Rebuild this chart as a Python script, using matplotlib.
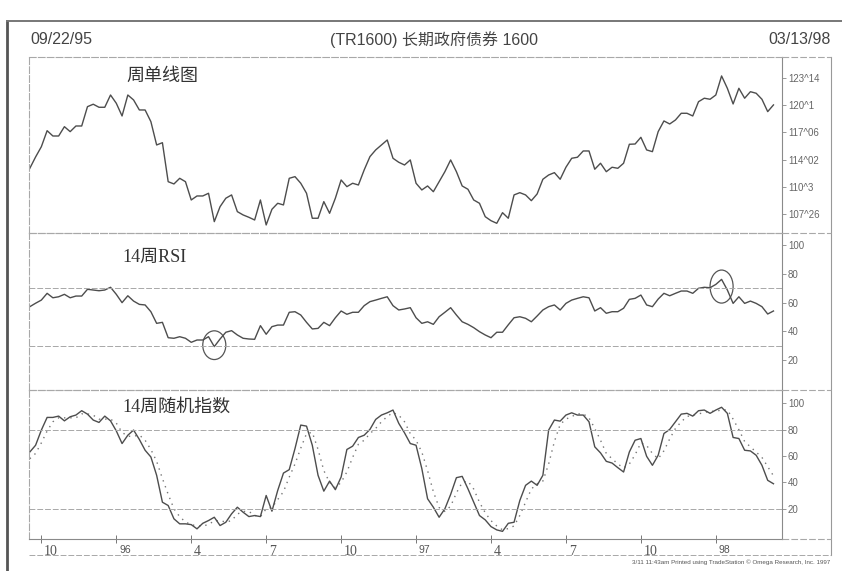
import numpy as np
import pandas as pd
import matplotlib
matplotlib.use('Agg')
import matplotlib.pyplot as plt
import matplotlib.dates as mdates
from matplotlib.patches import Ellipse
from matplotlib.lines import Line2D
from matplotlib.transforms import ScaledTranslation

plt.rcParams['font.family'] = ['Liberation Sans', 'Noto Sans CJK SC']

# weekly bars 09/22/95 .. 03/13/98
dates = pd.date_range('1995-09-22', periods=130, freq='W-FRI')

# weekly close (points, decimal)
price = [113.06, 114.36, 115.54, 117.38, 116.77, 116.77, 117.84, 117.27, 117.92, 117.92,
         120.14, 120.42, 120.07, 120.07, 121.48, 120.53, 119.07, 121.48, 120.91, 119.76,
         119.76, 118.42, 115.74, 116.00, 111.52, 111.26, 111.91, 111.52, 109.42, 109.88,
         109.88, 110.19, 106.93, 108.65, 109.62, 110.00, 108.08, 107.70, 107.43, 107.12,
         109.42, 106.55, 108.35, 109.04, 108.85, 111.91, 112.10, 111.34, 110.19, 107.32,
         107.32, 109.23, 107.89, 109.62, 111.72, 110.95, 111.34, 111.14, 112.87, 114.40,
         115.17, 115.74, 116.31, 114.21, 113.75, 113.44, 114.02, 111.34, 110.57, 111.03,
         110.37, 111.52, 112.67, 114.02, 112.67, 111.03, 110.65, 109.42, 109.04, 107.50,
         107.04, 106.74, 107.96, 107.32, 110.00, 110.26, 110.00, 109.34, 110.11, 111.80,
         112.29, 112.56, 111.80, 113.18, 114.21, 114.33, 115.05, 115.05, 112.95, 113.64,
         112.67, 113.18, 113.06, 113.64, 115.82, 115.85, 116.62, 115.17, 114.97, 117.27,
         118.50, 118.15, 118.61, 119.38, 119.38, 119.07, 120.71, 121.11, 120.99, 121.48,
         123.67, 122.25, 120.45, 122.25, 121.11, 121.86, 121.68, 120.99, 119.57, 120.34]

# 14-week RSI
rsi = [57.1, 59.5, 61.7, 66.4, 63.3, 64.0, 65.7, 63.3, 64.5, 64.5,
       69.2, 68.7, 68.2, 68.7, 70.6, 65.7, 59.9, 64.7, 61.0, 58.7,
       58.3, 53.6, 45.5, 46.2, 35.5, 35.1, 36.2, 35.1, 32.3, 33.9,
       33.9, 36.2, 29.3, 34.6, 39.3, 40.4, 37.4, 35.1, 34.6, 34.4,
       43.9, 37.9, 43.2, 44.3, 44.3, 53.2, 53.6, 51.3, 46.2, 41.6,
       42.0, 46.2, 43.9, 49.4, 54.1, 51.8, 53.2, 53.2, 57.8, 60.6,
       61.7, 62.9, 64.0, 57.8, 54.8, 55.5, 56.4, 49.4, 45.5, 46.6,
       44.8, 50.1, 53.2, 56.4, 51.3, 46.6, 44.8, 42.5, 39.7, 37.4,
       35.5, 39.3, 39.3, 44.5, 49.4, 50.1, 49.0, 46.6, 50.6, 54.8,
       57.1, 58.3, 54.8, 59.4, 61.7, 62.9, 64.0, 63.3, 54.1, 56.4,
       52.5, 53.6, 53.6, 56.0, 62.2, 62.9, 65.2, 58.3, 57.1, 62.4,
       66.4, 64.7, 66.4, 68.0, 68.0, 66.4, 69.9, 70.6, 70.3, 72.6,
       76.1, 68.7, 59.4, 64.0, 59.4, 61.0, 59.4, 57.1, 52.0, 54.1]

# 14-week stochastic %K (solid) and %D (dotted)
stoch_k = [63.1, 68.2, 79.7, 89.3, 89.3, 90.3, 86.7, 89.8, 91.1, 94.4,
           91.8, 87.3, 85.5, 90.3, 86.7, 79.1, 69.5, 75.8, 79.7, 72.6,
           64.4, 59.3, 45.4, 25.0, 22.5, 12.4, 8.6, 8.6, 8.0, 4.8,
           9.0, 11.1, 13.6, 7.3, 9.8, 16.2, 21.2, 17.4, 14.1, 14.9,
           14.1, 30.1, 18.2, 33.9, 47.1, 49.7, 65.7, 83.5, 82.7, 68.2,
           45.4, 33.4, 41.0, 34.5, 44.1, 65.0, 67.5, 74.1, 75.8, 80.2,
           87.8, 91.1, 92.8, 94.9, 84.8, 77.6, 69.5, 68.2, 50.5, 27.6,
           21.2, 13.6, 20.0, 30.9, 43.6, 44.6, 35.2, 25.0, 14.9, 11.6,
           6.5, 4.0, 2.9, 9.0, 9.8, 26.3, 37.8, 41.0, 37.8, 45.4,
           79.7, 87.3, 86.5, 91.1, 92.8, 91.1, 91.1, 86.0, 67.0, 62.4,
           56.0, 54.7, 51.2, 47.9, 63.1, 72.0, 73.3, 59.8, 53.0, 60.6,
           77.1, 80.2, 86.0, 91.8, 92.4, 90.3, 94.4, 94.9, 92.4, 94.9,
           97.0, 92.4, 74.1, 73.3, 64.4, 63.9, 60.6, 53.0, 41.6, 39.0]

stoch_d = [58, 62, 70, 79, 86, 89, 89, 89, 89, 92,
           92, 91, 88, 88, 88, 85, 78, 75, 75, 76,
           72, 65, 56, 43, 31, 20, 14, 10, 8, 7,
           7, 8, 11, 11, 10, 11, 16, 18, 18, 15,
           14, 20, 21, 27, 33, 44, 54, 66, 77, 78,
           65, 49, 40, 36, 40, 48, 59, 69, 72, 77,
           81, 86, 90, 93, 91, 86, 77, 72, 63, 49,
           33, 21, 18, 22, 32, 40, 41, 35, 25, 17,
           11, 7, 4, 5, 7, 15, 25, 35, 39, 41,
           54, 71, 84, 88, 90, 92, 92, 89, 81, 72,
           62, 58, 54, 51, 54, 61, 70, 68, 62, 58,
           64, 73, 81, 86, 90, 91, 92, 93, 94, 94,
           95, 95, 88, 80, 71, 67, 63, 59, 52, 45]

price_ticks = [107.8125, 110.9375, 114.0625, 117.1875, 120.3125, 123.4375]
price_labels = ['107^26', '110^3', '114^02', '117^06', '120^1', '123^14']
osc_ticks = [20, 40, 60, 80, 100]
month_ticks = ['1995-10-06', '1996-01-05', '1996-04-05', '1996-07-05', '1996-10-04',
               '1997-01-03', '1997-04-04', '1997-07-04', '1997-10-03', '1998-01-02']
month_labels = ['10', '96', '4', '7', '10', '97', '4', '7', '10', '98']


def fx(x):
    return x / 842


def fy(y):
    return 1 - y / 571


fig = plt.figure(figsize=(8.42, 5.71), dpi=100)
W = (781.7 - 29) / 842
ax1 = fig.add_axes([fx(29), fy(232.7), W, (232.7 - 56.7) / 571])
ax2 = fig.add_axes([fx(29), fy(390), W, (390 - 232.7) / 571], sharex=ax1)
ax3 = fig.add_axes([fx(29), fy(539), W, (539 - 390) / 571], sharex=ax1)

line_c = '#4d4d4d'
grid_c = '#a8a8a8'
dash = (0, (6, 2))

ax1.plot(dates, price, color=line_c, lw=1.0)
ax2.plot(dates, rsi, color=line_c, lw=1.0)
ax3.plot(dates, stoch_d, color='#777777', lw=1.0, ls=(0, (1, 3.5)))
ax3.plot(dates, stoch_k, color=line_c, lw=1.0)

for lvl in (70, 30):
    ax2.axhline(lvl, color=grid_c, lw=0.7, ls=dash)
for lvl in (80, 20):
    ax3.axhline(lvl, color=grid_c, lw=0.7, ls=dash)

# circles around the RSI extremes
for i, dy, h in ((32, 1.0, 20), (120, -5.0, 23)):
    ax2.add_patch(Ellipse((mdates.date2num(dates[i]), rsi[i] + dy), width=28, height=h,
                          fill=False, edgecolor='#555555', lw=0.9))

ax1.set_ylim(105.66, 125.88)
ax2.set_ylim(-0.9, 108.6)
ax3.set_ylim(-2.9, 110.1)
ax1.set_xlim(dates[0] - pd.Timedelta(days=1), dates[-1] + pd.Timedelta(days=10))

for ax in (ax1, ax2, ax3):
    ax.yaxis.tick_right()
    ax.tick_params(axis='y', direction='out', length=3, width=0.6, color='#888888',
                   labelcolor='#666666', labelsize=7, pad=1.5)
    for s in ('left', 'top', 'bottom'):
        ax.spines[s].set_color(grid_c)
        ax.spines[s].set_linewidth(0.8)
        ax.spines[s].set_linestyle(dash)
    ax.spines['right'].set_color('#8a8a8a')
    ax.spines['right'].set_linewidth(0.8)
    ax.patch.set_alpha(0)

ax1.set_yticks(price_ticks)
ax1.set_yticklabels(price_labels)
ax2.set_yticks(osc_ticks)
ax3.set_yticks(osc_ticks)
ax1.tick_params(axis='x', bottom=False, labelbottom=False)
ax2.tick_params(axis='x', bottom=False, labelbottom=False)

ax3.spines['bottom'].set_linestyle('-')
ax3.spines['bottom'].set_color('#8a8a8a')
ax3.set_xticks(mdates.date2num(pd.to_datetime(month_ticks)))
ax3.set_xticklabels(month_labels)
ax3.tick_params(axis='x', direction='inout', length=6, width=0.7, color='#777777',
                labelcolor='#555555', pad=1)
for lab in ax3.get_xticklabels():
    lab.set_ha('left')
    lab.set_transform(lab.get_transform() + ScaledTranslation(2 / 72, 0, fig.dpi_scale_trans))
    if lab.get_text() in ('96', '97', '98'):
        lab.set_fontsize(7.5)
        lab.set_family('Liberation Sans')
    else:
        lab.set_fontsize(10)
        lab.set_family('Liberation Serif')

cjk = ['Liberation Serif', 'Noto Sans CJK SC']
ax1.text(0.130, 0.89, '周单线图', transform=ax1.transAxes, fontsize=13,
         family=cjk, color='#333333', va='center', ha='left')
ax2.text(0.124, 0.845, '14周RSI', transform=ax2.transAxes, fontsize=13,
         family=cjk, color='#333333', va='center', ha='left')
ax3.text(0.124, 0.885, '14周随机指数', transform=ax3.transAxes, fontsize=13,
         family=cjk, color='#333333', va='center', ha='left')

# header
fig.text(fx(30), fy(40), '09/22/95', fontsize=11.5, color='#444444', va='center', ha='left')
fig.text(fx(434), fy(40), '(TR1600) 长期政府债券 1600', fontsize=11.5, color='#444444',
         va='center', ha='center', family=['Liberation Sans', 'Noto Sans CJK SC'])
fig.text(fx(831), fy(40), '03/13/98', fontsize=11.5, color='#444444', va='center', ha='right')
fig.text(fx(830), fy(562), '3/11 11:43am Printed using TradeStation \u00a9 Omega Research, Inc. 1997',
         fontsize=4.5, color='#555555', va='center', ha='right')

# outer frame of the printout
frame = [((7, 7), (21, 571), '#555555', 2.0, '-'),
         ((7, 842), (21, 21), '#777777', 1.4, '-'),
         ((831, 831), (56.7, 555), '#999999', 0.8, '-'),
         ((29, 831), (555, 555), grid_c, 0.7, dash),
         ((781.7, 831), (56.7, 56.7), grid_c, 0.8, dash),
         ((781.7, 831), (232.7, 232.7), grid_c, 0.8, dash),
         ((781.7, 831), (390, 390), grid_c, 0.8, dash),
         ((781.7, 831), (539, 539), grid_c, 0.8, dash)]
for xs, ys, c, lw, ls in frame:
    fig.add_artist(Line2D([fx(xs[0]), fx(xs[1])], [fy(ys[0]), fy(ys[1])],
                          transform=fig.transFigure, color=c, lw=lw, ls=ls))

fig.savefig('out.png', dpi=100)
